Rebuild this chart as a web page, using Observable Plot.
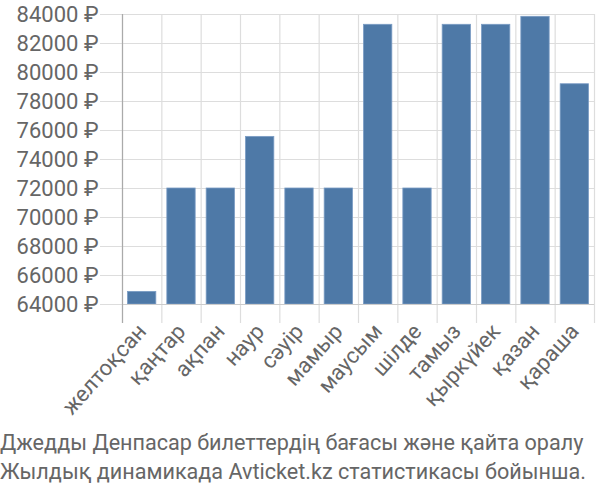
<!DOCTYPE html>
<html>
<head>
<meta charset="utf-8">
<script src="https://cdn.jsdelivr.net/npm/d3@7"></script>
<script src="https://cdn.jsdelivr.net/npm/@observablehq/plot@0.6"></script>
<style>
  body { margin: 0; background: #fff; font-family: Roboto, sans-serif; }
  #chart svg { display: block; }
  #caption { font-size: 21.6px; line-height: 29px; padding-top: 3px; color: #666; white-space: nowrap; width: 600px; }
</style>
</head>
<body>
<div id="chart"></div>
<div id="caption">Джедды Денпасар билеттердің бағасы және қайта оралу<br>Жылдық динамикада Avticket.kz статистикасы бойынша.</div>
<script>
const months = ["желтоқсан", "қаңтар", "ақпан", "наур", "сәуір", "мамыр", "маусым", "шілде", "тамыз", "қыркүйек", "қазан", "қараша"];
const prices = [64870, 72000, 72000, 75560, 72000, 72000, 83290, 72000, 83290, 83290, 83840, 79190];
const yTicks = [64000, 66000, 68000, 70000, 72000, 74000, 76000, 78000, 80000, 82000, 84000];

const data = months.map((m, i) => ({m, i, v: prices[i]}));
const bounds = d3.range(months.length + 1);
const centers = d3.range(months.length).map(i => i + 0.5);

const chart = Plot.plot({
  width: 600,
  height: 425,
  marginLeft: 122,
  marginRight: 6,
  marginTop: 14,
  marginBottom: 121,
  style: {fontFamily: "Roboto, sans-serif", fontSize: "22px", color: "#666", background: "#fff"},
  x: {domain: [0, months.length], label: null},
  y: {domain: [64000, 84000], label: null},
  marks: [
    Plot.gridY(yTicks, {stroke: "#ddd", strokeOpacity: 1, strokeWidth: 1.2}),
    Plot.axisY(yTicks, {tickSize: 22, tickPadding: 2, tickFormat: d => d + " ₽", stroke: "#ddd", strokeOpacity: 1, fill: "#666", label: null, fontSize: 22}),
    Plot.gridX(bounds, {stroke: "#ddd", strokeOpacity: 1, strokeWidth: 1.2, insetBottom: -19}),
    Plot.rectY(data, {x1: d => d.i + 0.14, x2: d => d.i + 0.86, y1: 64000, y2: "v", fill: "#4e79a7", stroke: "#7a9cc4", strokeWidth: 0.8}),
    Plot.ruleY([64000], {stroke: "#ccc", strokeWidth: 1.2}),
    Plot.ruleX([0], {stroke: "#aaa", strokeWidth: 1.2, insetBottom: -19}),
    Plot.axisX(centers, {tickSize: 0, tickPadding: 23, tickRotate: -48, tickFormat: d => months[Math.floor(d)], fill: "#666", label: null, fontSize: 22})
  ]
});
document.getElementById("chart").appendChild(chart);
</script>
</body>
</html>
